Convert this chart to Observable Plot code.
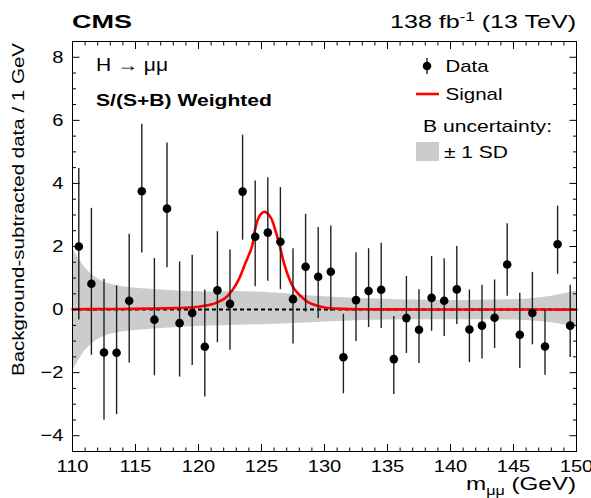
<!DOCTYPE html>
<html>
<head>
<meta charset="utf-8">
<script src="https://cdn.jsdelivr.net/npm/d3@7"></script>
<script src="https://cdn.jsdelivr.net/npm/@observablehq/plot@0.6"></script>
<style>
  body { margin: 0; background: #fff; }
  #chart { width: 591px; height: 498px; }
</style>
</head>
<body>
<div id="chart"></div>
<script>
// ---- data ----
const binMass = [110.5,111.5,112.5,113.5,114.5,115.5,116.5,117.5,118.5,119.5,120.5,121.5,122.5,123.5,124.5,125.5,126.5,127.5,128.5,129.5,130.5,131.5,132.5,133.5,134.5,135.5,136.5,137.5,138.5,139.5,140.5,141.5,142.5,143.5,144.5,145.5,146.5,147.5,148.5,149.5];
const dataValue = [2.0,0.82,-1.36,-1.37,0.28,3.75,-0.32,3.2,-0.43,-0.11,-1.18,0.61,0.18,3.74,2.31,2.44,2.15,0.33,1.36,1.04,1.2,-1.51,0.3,0.59,0.63,-1.57,-0.27,-0.64,0.37,0.28,0.64,-0.63,-0.51,-0.26,1.43,-0.8,-0.11,-1.17,2.07,-0.51];
const dataHigh = [4.47,3.21,0.96,0.75,2.39,5.88,1.62,5.28,1.51,1.72,0.62,2.47,1.89,5.53,4.08,4.18,3.87,1.93,3.02,2.6,2.65,-0.15,1.8,1.93,2.1,-0.22,1.05,0.63,1.68,1.61,2.0,0.62,0.77,0.94,2.72,0.52,1.18,0.0,3.28,0.77];
const dataLow = [-0.33,-1.45,-3.51,-3.33,-1.69,1.79,-2.1,1.33,-2.14,-1.77,-2.77,-1.05,-1.29,2.2,0.72,0.9,0.63,-1.09,-0.08,-0.28,-0.05,-2.67,-1.01,-0.57,-0.6,-2.69,-1.39,-1.71,-0.69,-0.85,-0.47,-1.68,-1.57,-1.23,0.42,-1.87,-1.12,-2.08,1.12,-1.52];

const signalMass = [110,112,114,116,118,119,120,120.5,121,121.5,122,122.3,122.7,123.2,123.7,124.26,124.47,124.73,125.0,125.24,125.5,125.79,126.11,126.45,126.8,127.22,127.6,128.1,128.76,129.3,130.1,131,132,134,137,140,145,150];
const signalValue = [0.01,0.015,0.02,0.03,0.045,0.06,0.09,0.12,0.16,0.23,0.33,0.43,0.62,0.96,1.45,2.02,2.5,2.88,3.05,3.1,3.04,2.88,2.5,2.02,1.45,0.96,0.65,0.43,0.22,0.14,0.06,0.03,0.015,0.008,0.004,0.002,0.001,0.0];

const bandMass  = [110,110.5,111,111.5,112,112.5,113,114,115,117,119,121,123,125,127,129,131,133,135,137,139,141,143,145,146,147,148,149,150];
const bandUpper = [1.95,1.6,1.33,1.12,0.98,0.87,0.8,0.72,0.68,0.62,0.57,0.56,0.57,0.55,0.5,0.43,0.38,0.35,0.32,0.3,0.29,0.29,0.3,0.31,0.33,0.37,0.42,0.5,0.58];
const bandLower = [-1.95,-1.6,-1.3,-1.1,-0.95,-0.85,-0.78,-0.7,-0.66,-0.6,-0.55,-0.52,-0.5,-0.48,-0.45,-0.42,-0.38,-0.35,-0.33,-0.32,-0.32,-0.32,-0.32,-0.33,-0.35,-0.38,-0.42,-0.48,-0.55];

const xMajorTicks = [110,115,120,125,130,135,140,145,150];
const xMinorTicks = d3.range(110, 151, 1).filter(v => v % 5 !== 0);
const yMajorTicks = [-4,-2,0,2,4,6,8];
const yMinorTicks = d3.range(-4.5, 8.51, 0.5).filter(v => v % 2 !== 0);

// ---- tables for the marks ----
const points = binMass.map((m, i) => ({m, v: dataValue[i], hi: dataHigh[i], lo: dataLow[i]}));
const signal = signalMass.map((m, i) => ({m, v: signalValue[i]}));
const band = bandMass.map((m, i) => ({m, up: bandUpper[i], dn: bandLower[i]}));

const FONT = "Liberation Sans, Arial, Helvetica, sans-serif";
const noText = () => "";

const plot = Plot.plot({
  width: 591,
  height: 498,
  marginLeft: 72,
  marginRight: 15,
  marginTop: 41,
  marginBottom: 47,
  style: {fontFamily: FONT, fontSize: "17px", color: "black", background: "white"},
  x: {domain: [110, 150], axis: null},
  y: {domain: [-4.5, 8.5], axis: null},
  marks: [
    Plot.areaY(band, {x: "m", y1: "dn", y2: "up", fill: "#cccccc", curve: "linear"}),
    Plot.ruleY([0], {stroke: "black", strokeWidth: 2, strokeDasharray: "4,3"}),
    Plot.line(signal, {x: "m", y: "v", stroke: "#ff0000", strokeWidth: 2.6, curve: "catmull-rom"}),
    Plot.ruleX(points, {x: "m", y1: "lo", y2: "hi", stroke: "#222", strokeWidth: 1.4}),
    Plot.dot(points, {x: "m", y: "v", r: 4.3, fill: "black", stroke: "none"}),
    // inward ticks on all four sides
    Plot.axisX({anchor: "bottom", ticks: xMajorTicks, tickSize: -7, tickFormat: noText, label: null}),
    Plot.axisX({anchor: "bottom", ticks: xMinorTicks, tickSize: -3.5, tickFormat: noText, label: null}),
    Plot.axisX({anchor: "top", ticks: xMajorTicks, tickSize: -7, tickFormat: noText, label: null}),
    Plot.axisX({anchor: "top", ticks: xMinorTicks, tickSize: -3.5, tickFormat: noText, label: null}),
    Plot.axisY({anchor: "left", ticks: yMajorTicks, tickSize: -7.5, tickFormat: noText, label: null}),
    Plot.axisY({anchor: "left", ticks: yMinorTicks, tickSize: -4, tickFormat: noText, label: null}),
    Plot.axisY({anchor: "right", ticks: yMajorTicks, tickSize: -7.5, tickFormat: noText, label: null}),
    Plot.axisY({anchor: "right", ticks: yMinorTicks, tickSize: -4, tickFormat: noText, label: null}),
    // tick labels
    Plot.axisX({anchor: "bottom", ticks: xMajorTicks, tickSize: 0, tickPadding: 8, tickFormat: d => String(d), fontSize: 17, label: null}),
    Plot.axisY({anchor: "left", ticks: yMajorTicks, tickSize: 0, tickPadding: 9, tickFormat: d => (d < 0 ? "\u2212" + Math.abs(d) : String(d)), fontSize: 17, label: null}),
    Plot.frame({stroke: "black", strokeWidth: 1})
  ]
});

document.getElementById("chart").appendChild(plot);
const svg = d3.select(plot);

// stretch tick labels horizontally like the ROOT font
svg.selectAll("g[aria-label$='tick label'] text").each(function () {
  const t = this.textContent;
  if (!t) return;
  const w = this.getComputedTextLength();
  this.setAttribute("textLength", (w * 1.18).toFixed(1));
  this.setAttribute("lengthAdjust", "spacingAndGlyphs");
});

function addText(parts, {x, y, size, weight = "normal", anchor = "start", width = null, rotate = 0}) {
  const g = svg.append("g").attr("transform", `translate(${x},${y}) rotate(${rotate})`);
  const t = g.append("text")
    .attr("font-family", FONT)
    .attr("font-size", size)
    .attr("font-weight", weight)
    .attr("text-anchor", anchor)
    .attr("fill", "black");
  for (const p of parts) {
    const s = t.append("tspan").text(p.text);
    if (p.size) s.attr("font-size", p.size);
    if (p.shift) s.attr("baseline-shift", p.shift);
  }
  if (width) {
    t.attr("textLength", width).attr("lengthAdjust", "spacingAndGlyphs");
  }
  return t;
}

// header
addText([{text: "CMS"}], {x: 72, y: 28, size: 19, weight: "bold", width: 60});
addText([{text: "138 fb"}, {text: "-1", size: 12, shift: "7"}, {text: " (13 TeV)"}], {x: 576, y: 28, size: 18, anchor: "end", width: 186});

// axis titles
addText([{text: "m"}, {text: "\u03bc\u03bc", size: 12, shift: "-5"}, {text: " (GeV)"}], {x: 576, y: 490, size: 18, anchor: "end", width: 110});
addText([{text: "Background-subtracted data / 1 GeV"}], {x: 24, y: 376, size: 15.8, rotate: -90, width: 333});

// in-plot labels
addText([{text: "H \u2192 \u03bc\u03bc"}], {x: 96, y: 71, size: 18, width: 72});
addText([{text: "S/(S+B) Weighted"}], {x: 96, y: 106, size: 17, weight: "bold", width: 176});

// legend
const lg = svg.append("g");
lg.append("line").attr("x1", 427).attr("x2", 427).attr("y1", 58).attr("y2", 74).attr("stroke", "#222").attr("stroke-width", 1.4);
lg.append("circle").attr("cx", 427).attr("cy", 66).attr("r", 4.3).attr("fill", "black");
addText([{text: "Data"}], {x: 445.5, y: 72, size: 17, width: 43});
lg.append("line").attr("x1", 416).attr("x2", 439).attr("y1", 94).attr("y2", 94).attr("stroke", "#ff0000").attr("stroke-width", 2.6);
addText([{text: "Signal"}], {x: 445.5, y: 100, size: 17, width: 57});
addText([{text: "B uncertainty:"}], {x: 423, y: 132, size: 17, width: 129});
lg.append("rect").attr("x", 416).attr("y", 142).attr("width", 23).attr("height", 19).attr("fill", "#cccccc");
addText([{text: "\u00b1 1 SD"}], {x: 444, y: 158, size: 17, width: 64});
</script>
</body>
</html>
